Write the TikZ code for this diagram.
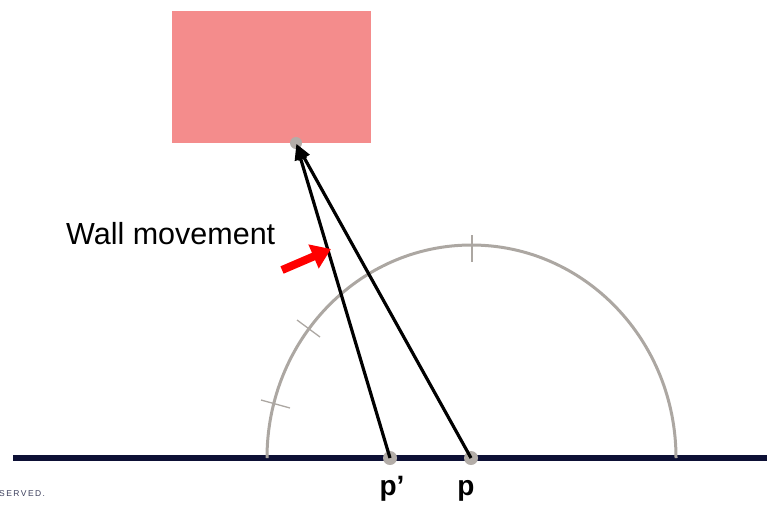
\documentclass[tikz,border=0pt]{standalone}
\usepackage{fontspec}
\setmainfont{Liberation Sans}
\usetikzlibrary{arrows.meta}
\definecolor{wallpink}{HTML}{F48C8C}
\definecolor{ground}{HTML}{0D1035}
\definecolor{arcgray}{HTML}{ACA7A2}
\definecolor{dotgray}{HTML}{B3ADA8}
\tikzset{
  dotpt/.style={circle,fill=dotgray,inner sep=0pt,minimum size=#1},
  vec/.style={draw=black,line width=3.2pt,-{Triangle[length=16pt,width=12pt]},shorten >=1pt},
  tickmark/.style={draw=arcgray,line width=1.3pt},
  lbl/.style={font=\bfseries\fontsize{28}{32}\selectfont,inner sep=0pt,anchor=base}
}
\begin{document}
\begin{tikzpicture}[x=1pt,y=-1pt]
\useasboundingbox (0,0) rectangle (767,504);
% wall
\node[fill=wallpink,draw=none,minimum width=199pt,minimum height=132pt,inner sep=0pt] (wall) at (271.5,77) {};
% ground
\coordinate (gl) at (13,458);
\coordinate (gr) at (767,458);
\draw[ground,line width=6.5pt] (gl) -- (gr);
% arc
\coordinate (arcstart) at (267,458);
\draw[arcgray,line width=3pt] (arcstart) arc[start angle=180,end angle=0,x radius=204.5pt,y radius=213pt];
% ticks
\coordinate (t1a) at (472,235); \coordinate (t1b) at (472,262);
\coordinate (t2a) at (297,320); \coordinate (t2b) at (320,337);
\coordinate (t3a) at (261,400); \coordinate (t3b) at (290,408);
\draw[tickmark] (t1a) -- (t1b);
\draw[tickmark] (t2a) -- (t2b);
\draw[tickmark] (t3a) -- (t3b);
% points
\node[dotpt=14pt] (pp) at (390,458) {};
\node[dotpt=14pt] (p) at (471,458) {};
\node[dotpt=12pt] (top) at (296,143) {};
% vectors
\draw[vec] (pp.center) -- (top.center);
\draw[vec] (p.center) -- (top.center);
% red arrow
\coordinate (ra) at (282,270);
\coordinate (rb) at (331,249);
\draw[red,line width=8pt,-{Triangle[length=19pt,width=25pt]}] (ra) -- (rb);
% labels
\node[font=\fontsize{30.5}{35}\selectfont,inner sep=0pt,anchor=base west] (wm) at (66,244) {Wall movement};
\node[lbl] (lpp) at (392,495) {p’};
\node[lbl] (lp) at (466,495) {p};
\node[font=\fontsize{8.5}{10}\selectfont,inner sep=0pt,anchor=base west,text=ground!80] (srv) at (-1,496) {S\,E\,R\,V\,E\,D\,.};
\end{tikzpicture}
\end{document}
